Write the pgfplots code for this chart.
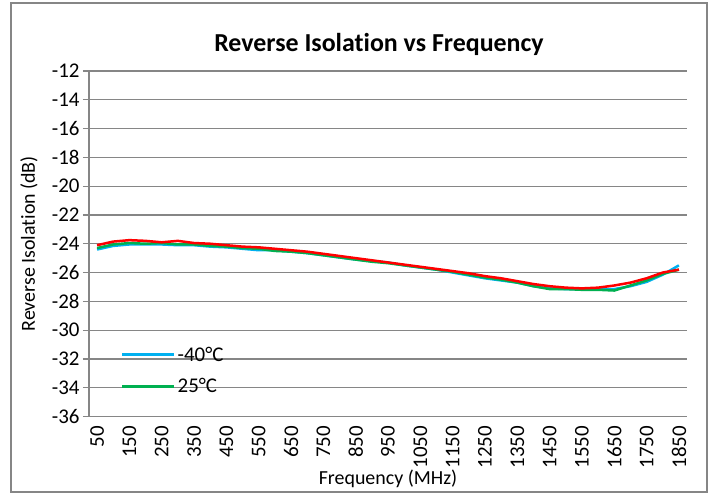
\documentclass[border=0pt]{standalone}
\usepackage{pgfplots}
\pgfplotsset{compat=1.18}
\usepackage{fontspec}
\setmainfont[Ligatures=NoCommon]{Carlito}
\definecolor{gridgray}{RGB}{134,134,134}
\definecolor{cblue}{RGB}{0,176,240}
\definecolor{cgreen}{RGB}{0,176,80}
\definecolor{cred}{RGB}{255,0,0}
\begin{document}
\begin{tikzpicture}[x=1bp,y=1bp]
\useasboundingbox (-89,-76.5) rectangle (626,416.5);
\draw[gridgray,line width=1.2bp] (-78,413.5) rectangle (618,-75.5);
\begin{axis}[
  at={(0,0)}, anchor=south west,
  scale only axis, width=598bp, height=345.5bp,
  xmin=25, xmax=1875, ymin=-36, ymax=-12,
  axis x line=bottom, axis y line=left,
  axis line style={gridgray,line width=1.2bp,-},
  xtick={50,150,...,1850}, ytick={-36,-34,...,-12},
  x tick style={draw=none},
  y tick style={gridgray,line width=1.2bp},
  tick align=outside, major tick length=6bp,
  ymajorgrids, grid style={gridgray,line width=1.2bp},
  /pgf/number format/assume math mode=true,
  xticklabel style={rotate=90, anchor=east, font=\fontsize{21}{21}\selectfont},
  yticklabel style={font=\fontsize{21}{21}\selectfont},
  x tick label style={/pgf/number format/1000 sep={}},
  xlabel={Frequency (MHz)},
  ylabel={Reverse Isolation (dB)},
  xlabel style={font=\fontsize{20}{20}\selectfont, at={(rel axis cs:0.5,0)}, anchor=base, yshift=-68bp},
  ylabel style={font=\fontsize{20}{20}\selectfont, at={(rel axis cs:0,0.5)}, anchor=center, yshift=60bp},
  title={\textbf{Reverse Isolation vs Frequency}},
  title style={font=\fontsize{26}{26}\selectfont, at={(rel axis cs:0.5,1)}, anchor=base, yshift=14bp, xshift=-9bp},
  legend style={draw=none, fill=none, at={(rel axis cs:0.0535,0.133)}, anchor=west, font=\fontsize{21}{21}\selectfont, row sep=12bp, inner sep=0pt},
  legend cell align=left,
  legend image code/.code={\draw[#1,line width=2.5bp] (0bp,0bp) -- (52bp,0bp);},
  clip=false,
]
\addplot[cblue, line width=2.5bp] coordinates {
(50,-24.4)(100,-24.15)(150,-24.05)(200,-24.05)(250,-24.05)(300,-24.1)(350,-24.1)(400,-24.2)(450,-24.25)(500,-24.35)(550,-24.45)(600,-24.45)(650,-24.55)(700,-24.65)(750,-24.8)(800,-24.95)(850,-25.1)(900,-25.2)(950,-25.3)(1000,-25.5)(1050,-25.65)(1100,-25.8)(1150,-26.0)(1200,-26.2)(1250,-26.4)(1300,-26.55)(1350,-26.7)(1400,-26.95)(1450,-27.1)(1500,-27.15)(1550,-27.15)(1600,-27.15)(1650,-27.15)(1700,-26.95)(1750,-26.65)(1800,-26.15)(1850,-25.5)};
\addlegendentry{-40°C}
\addplot[cgreen, line width=2.5bp] coordinates {
(50,-24.3)(100,-24.05)(150,-23.95)(200,-24.0)(250,-23.95)(300,-24.05)(350,-24.05)(400,-24.15)(450,-24.2)(500,-24.3)(550,-24.35)(600,-24.5)(650,-24.55)(700,-24.65)(750,-24.8)(800,-24.95)(850,-25.1)(900,-25.25)(950,-25.35)(1000,-25.5)(1050,-25.65)(1100,-25.8)(1150,-25.95)(1200,-26.15)(1250,-26.35)(1300,-26.5)(1350,-26.7)(1400,-26.95)(1450,-27.15)(1500,-27.15)(1550,-27.2)(1600,-27.2)(1650,-27.25)(1700,-26.9)(1750,-26.55)(1800,-26.1)(1850,-25.8)};
\addlegendentry{25°C}
\addplot[cred, line width=2.5bp, forget plot] coordinates {
(50,-24.1)(100,-23.85)(150,-23.75)(200,-23.8)(250,-23.9)(300,-23.8)(350,-23.95)(400,-24.0)(450,-24.1)(500,-24.2)(550,-24.25)(600,-24.35)(650,-24.45)(700,-24.55)(750,-24.7)(800,-24.85)(850,-25.0)(900,-25.15)(950,-25.3)(1000,-25.45)(1050,-25.6)(1100,-25.75)(1150,-25.9)(1200,-26.05)(1250,-26.25)(1300,-26.4)(1350,-26.6)(1400,-26.8)(1450,-26.95)(1500,-27.05)(1550,-27.1)(1600,-27.05)(1650,-26.9)(1700,-26.7)(1750,-26.4)(1800,-26.0)(1850,-25.8)};
\end{axis}
\end{tikzpicture}
\end{document}
